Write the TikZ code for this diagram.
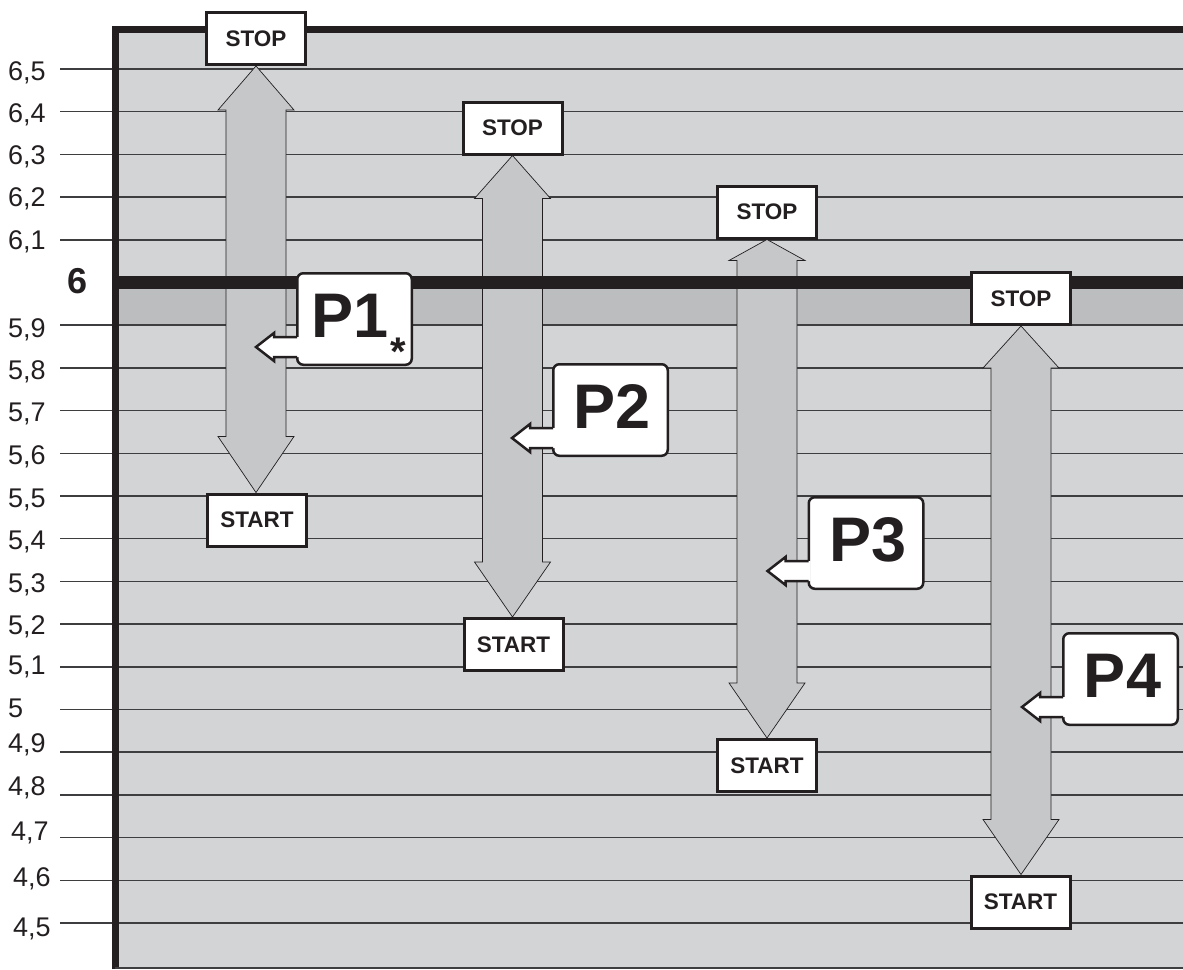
\documentclass[tikz,border=0pt]{standalone}
\usepackage{fontspec}
\setmainfont{Liberation Sans}
\usetikzlibrary{calc}
\definecolor{bglight}{RGB}{211,212,214}
\definecolor{bgdark}{RGB}{188,189,191}
\definecolor{arrfill}{RGB}{198,199,201}
\definecolor{rulec}{RGB}{62,62,64}
\definecolor{ink}{RGB}{35,31,32}
\pgfdeclarelayer{back}
\pgfsetlayers{back,main}
\tikzset{
  rulel/.style={draw=rulec, line width=1.5pt},
  valabel/.style={anchor=base west, inner sep=0pt, font=\fontsize{27}{27}\selectfont, text=ink},
  tagbox/.style={draw=ink, line width=3pt, fill=white, minimum width=99pt, minimum height=52pt, inner sep=0pt, font=\bfseries\fontsize{22.5}{22.5}\selectfont, text=ink},
  arr/.style={draw=ink, line width=0.7pt, fill=arrfill, line join=miter},
  callout/.style={draw=ink, line width=2.5pt, fill=white, rounded corners=6pt, minimum width=114.5pt, minimum height=91.5pt, inner sep=0pt},
  calltext/.style={font=\bfseries\fontsize{63}{63}\selectfont, text=ink, inner sep=0pt, anchor=center},
  tabline/.style={draw=ink, line width=2.5pt, line join=miter},
}
\newcommand\dblarrow[4]{%
  \draw[arr] (#1.south) -- ++(38,#3) -- ++(-8,0) -- ($(#1.south |- #2.north)+(30,-#4)$) -- ++(8,0)
    -- (#1.south |- #2.north) -- ++(-38,-#4) -- ++(8,0) -- ($(#1.south)+(-30,#3)$) -- ++(-8,0) -- cycle;}
\newcommand\callouttab[1]{%
  \fill[white] ($(#1.south west)+(3,-9)$) -- ++(-25,0) -- ++(0,4) -- ++(-18,-14) -- ++(18,-14) -- ++(0,4) -- ++(25,0) -- cycle;
  \draw[tabline] ($(#1.south west)+(1.2,-9)$) -- ++(-23.2,0) -- ++(0,4) -- ++(-18,-14) -- ++(18,-14) -- ++(0,4) -- ++(23.2,0);}
\begin{document}
\begin{tikzpicture}[x=1pt,y=-1pt]
\useasboundingbox (0,0) rectangle (1183,969);

% value labels
\foreach \v/\xx/\yy in {{6,5}/8/71, {6,4}/8/113, {6,3}/8/155, {6,2}/8/197, {6,1}/8/240,
  {5,9}/8/328, {5,8}/8/370, {5,7}/8/412, {5,6}/8/455, {5,5}/8/498, {5,4}/8/540, {5,3}/8/583,
  {5,2}/8/625, {5,1}/8/665, {5}/8/708, {4,9}/8/743, {4,8}/8/786, {4,7}/11/831, {4,6}/13/877, {4,5}/13/927}
  {\node[valabel] at (\xx,\yy+9.5) {\v};}
\node[anchor=base west, inner sep=0pt, font=\bfseries\fontsize{36}{36}\selectfont, text=ink] (six) at (67,293) {6};

% STOP / START boxes
\node[tagbox] (stop1) at (256,38.5) {STOP};
\node[tagbox] (stop2) at (512.5,128) {STOP};
\node[tagbox] (stop3) at (767,212) {STOP};
\node[tagbox] (stop4) at (1021,298.5) {STOP};
\node[tagbox] (start1) at (257,520) {START};
\node[tagbox] (start2) at (513.5,644.5) {START};
\node[tagbox] (start3) at (767,765.5) {START};
\node[tagbox] (start4) at (1020.5,902) {START};

\begin{pgfonlayer}{back}
  \fill[bglight] (115,29) rectangle (1183,969);
  \fill[bgdark] (115,282) rectangle (1183,325.2);
  \foreach \k in {0,1,2,3,4,6,7,8,9,10,11,12,13,14,15,16,17,18,19,20}
    {\draw[rulel] (60,69+\k*42.7) -- (1183,69+\k*42.7);}
  \dblarrow{stop1}{start1}{44}{56}
  \dblarrow{stop2}{start2}{43}{55}
  \dblarrow{stop3}{start3}{21}{55}
  \dblarrow{stop4}{start4}{42}{55}
  \draw[ink, line width=13pt] (112,282.5) -- (1183,282.5);
  \draw[ink, line width=7pt] (115,969) -- (115,29) -- (1183,29);
  \draw[rulec, line width=1.4pt] (115,968) -- (1183,968);
\end{pgfonlayer}

% callouts
\node[callout] (p1) at (354.5,319) {};
\callouttab{p1}
\node[calltext] (p1t) at ($(p1.center)+(-4,-3.5)$) {P1};
\node[font=\bfseries\fontsize{40}{40}\selectfont, text=ink, inner sep=0pt] (p1s) at ($(p1.south east)+(-15,-14)$) {*};

\node[callout] (p2) at (610.5,410) {};
\callouttab{p2}
\node[calltext] (p2t) at ($(p2.center)+(2,-3.5)$) {P2};

\node[callout] (p3) at (866,543) {};
\callouttab{p3}
\node[calltext] (p3t) at ($(p3.center)+(2,-3.5)$) {P3};

\node[callout] (p4) at (1120.5,679) {};
\callouttab{p4}
\node[calltext] (p4t) at ($(p4.center)+(2,-3.5)$) {P4};
\end{tikzpicture}
\end{document}
